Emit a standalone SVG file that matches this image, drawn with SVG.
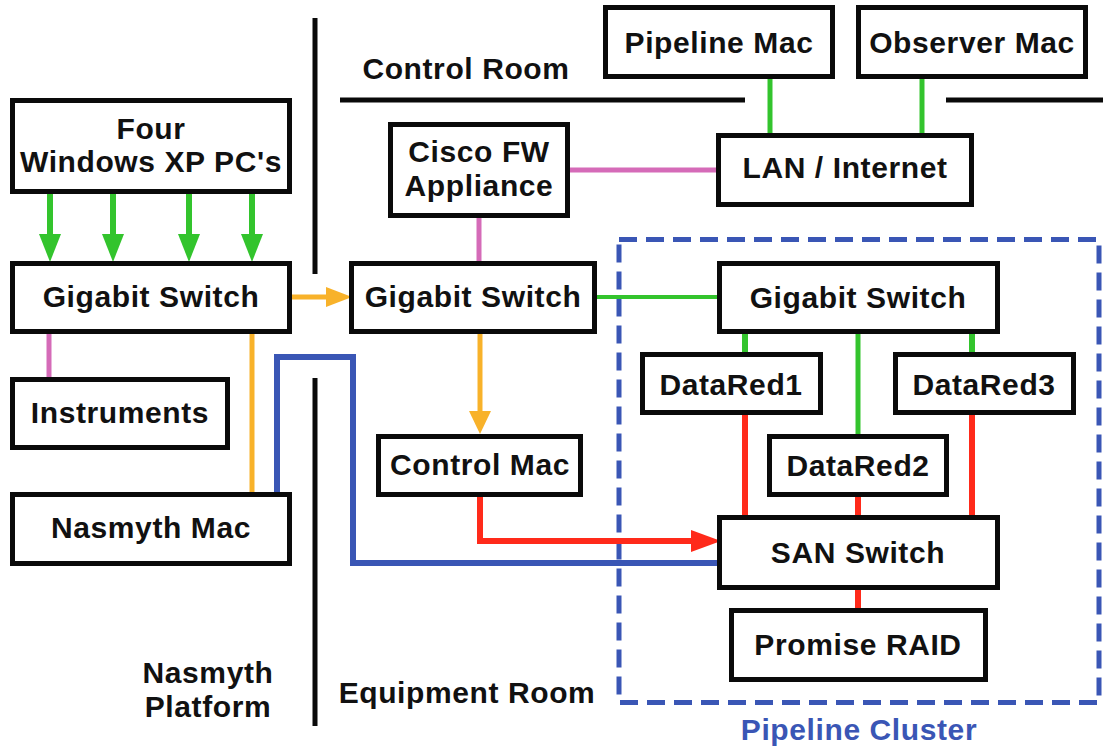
<svg xmlns="http://www.w3.org/2000/svg" width="1103" height="746" viewBox="0 0 1103 746">
<style>
.box{fill:#fff;stroke:#0a0a0a;stroke-width:5}
.t{font-family:"Liberation Sans",Arial,sans-serif;font-weight:bold;font-size:30px;letter-spacing:0.6px;fill:#111;text-anchor:middle}
.div{stroke:#0a0a0a;stroke-width:5;fill:none}
.g{stroke:#33c42d;fill:none}
.o{stroke:#f8b22a;fill:none}
.p{stroke:#d56bb8;fill:none;stroke-width:5}
.r{stroke:#ff2a1a;fill:none;stroke-width:6}
.b{stroke:#3a56b5;fill:none;stroke-width:6}
</style>
<rect width="1103" height="746" fill="#fff"/>
<g id="dividers">
<line class="div" x1="315" y1="18" x2="315" y2="274"/>
<line class="div" x1="315" y1="378" x2="315" y2="726"/>
<line class="div" x1="340" y1="100" x2="745" y2="100"/>
<line class="div" x1="946" y1="100" x2="1103" y2="100"/>
<text class="t" x="466" y="79">Control Room</text>
<text class="t" x="467" y="703">Equipment Room</text>
<text class="t" x="208" y="683">Nasmyth</text>
<text class="t" x="208" y="717">Platform</text>
</g>
<g id="cluster">
<rect x="619" y="239.5" width="480" height="463" fill="none" stroke="#3a56b5" stroke-width="5" stroke-dasharray="18 9"/>
<text class="t" x="859" y="740" style="fill:#3a56b5">Pipeline Cluster</text>
</g>
<g id="connectors">
<g class="g" stroke-width="6">
<line x1="50" y1="194" x2="50" y2="236"/>
<line x1="113" y1="194" x2="113" y2="236"/>
<line x1="189" y1="194" x2="189" y2="236"/>
<line x1="252" y1="194" x2="252" y2="236"/>
</g>
<g fill="#33c42d">
<path d="M39,234 L61,234 L50,262 Z"/>
<path d="M102,234 L124,234 L113,262 Z"/>
<path d="M178,234 L200,234 L189,262 Z"/>
<path d="M241,234 L263,234 L252,262 Z"/>
</g>
<line class="o" stroke-width="5" x1="292" y1="297" x2="328" y2="297"/>
<path d="M326,287 L352,297 L326,307 Z" fill="#f8b22a"/>
<line class="p" x1="49" y1="333" x2="49" y2="377"/>
<line class="o" stroke-width="5" x1="252" y1="333" x2="252" y2="492"/>
<path class="b" d="M277,492 V357 H353 V563 H717"/>
<line class="p" x1="570" y1="170" x2="716" y2="170"/>
<line class="p" x1="479" y1="218" x2="479" y2="262"/>
<line class="g" stroke-width="5" x1="770" y1="79" x2="770" y2="133"/>
<line class="g" stroke-width="5" x1="922" y1="79" x2="922" y2="133"/>
<line class="g" stroke-width="4" x1="597" y1="297" x2="717" y2="297"/>
<line class="o" stroke-width="5" x1="480" y1="333" x2="480" y2="413"/>
<path d="M469,411 L491,411 L480,434 Z" fill="#f8b22a"/>
<path class="r" d="M480,497 V541 H693"/>
<path d="M691,530 L721,541 L691,552 Z" fill="#ff2a1a"/>
<line class="g" stroke-width="6" x1="745" y1="334" x2="745" y2="352"/>
<line class="g" stroke-width="6" x1="972" y1="334" x2="972" y2="352"/>
<line class="g" stroke-width="5" x1="858" y1="334" x2="858" y2="434"/>
<line class="r" x1="745" y1="415" x2="745" y2="515"/>
<line class="r" x1="972" y1="415" x2="972" y2="515"/>
<line class="r" stroke-width="5" x1="858" y1="497" x2="858" y2="515"/>
<line class="r" stroke-width="5" x1="858" y1="590" x2="858" y2="608"/>
</g>
<g id="four-pcs"><rect class="box" x="12.5" y="100.5" width="277" height="91"/><text class="t" x="151" y="139">Four</text><text class="t" x="151" y="172">Windows XP PC's</text></g>
<g id="gig-left"><rect class="box" x="12.5" y="263.5" width="277" height="68"/><text class="t" x="151" y="307">Gigabit Switch</text></g>
<g id="instruments"><rect class="box" x="12.5" y="379.5" width="215" height="68"/><text class="t" x="120" y="423">Instruments</text></g>
<g id="nasmyth-mac"><rect class="box" x="12.5" y="494.5" width="277" height="69"/><text class="t" x="151" y="538">Nasmyth Mac</text></g>
<g id="cisco"><rect class="box" x="390.5" y="124.5" width="177" height="91"/><text class="t" x="479" y="162">Cisco FW</text><text class="t" x="479" y="196">Appliance</text></g>
<g id="gig-mid"><rect class="box" x="351.5" y="263.5" width="243" height="68"/><text class="t" x="473" y="307">Gigabit Switch</text></g>
<g id="control-mac"><rect class="box" x="378.5" y="436.5" width="202" height="58"/><text class="t" x="480" y="475">Control Mac</text></g>
<g id="pipeline-mac"><rect class="box" x="605.5" y="7.5" width="227" height="69"/><text class="t" x="719" y="53">Pipeline Mac</text></g>
<g id="observer-mac"><rect class="box" x="858.5" y="7.5" width="227" height="69"/><text class="t" x="972" y="53">Observer Mac</text></g>
<g id="lan"><rect class="box" x="718.5" y="135.5" width="253" height="69"/><text class="t" x="845" y="178">LAN / Internet</text></g>
<g id="gig-right"><rect class="box" x="719.5" y="263.5" width="278" height="68"/><text class="t" x="858" y="308">Gigabit Switch</text></g>
<g id="datared1"><rect class="box" x="642.5" y="354.5" width="178" height="58"/><text class="t" x="731" y="395">DataRed1</text></g>
<g id="datared3"><rect class="box" x="895.5" y="354.5" width="178" height="58"/><text class="t" x="984" y="395">DataRed3</text></g>
<g id="datared2"><rect class="box" x="769.5" y="436.5" width="177" height="58"/><text class="t" x="858" y="476">DataRed2</text></g>
<g id="san"><rect class="box" x="719.5" y="517.5" width="278" height="70"/><text class="t" x="858" y="563">SAN Switch</text></g>
<g id="raid"><rect class="box" x="731.5" y="610.5" width="254" height="69"/><text class="t" x="858" y="655">Promise RAID</text></g>
</svg>
